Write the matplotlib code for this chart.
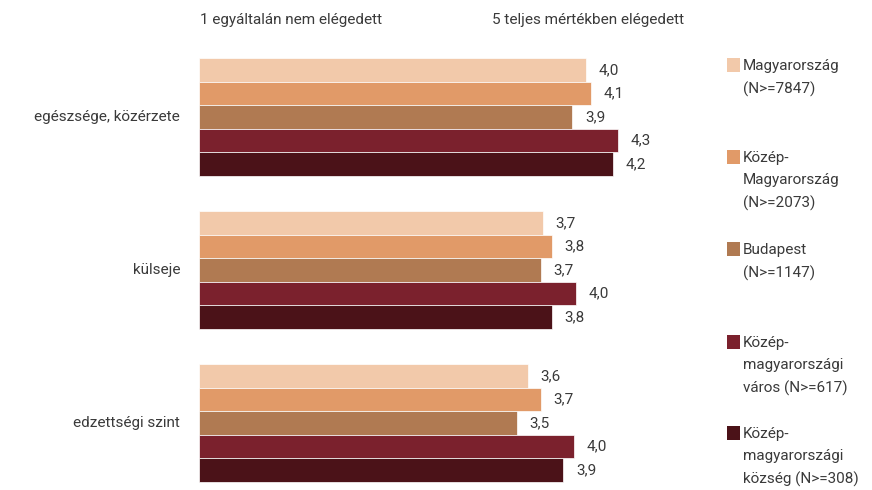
import matplotlib
matplotlib.use("Agg")
import matplotlib.pyplot as plt
from matplotlib.patches import Rectangle
import numpy as np

plt.rcParams['font.family'] = ['Roboto', 'DejaVu Sans']

categories = ["egészsége, közérzete", "külseje", "edzettségi szint"]
series = ["Magyarország\n(N>=7847)", "Közép-\nMagyarország\n(N>=2073)", "Budapest\n(N>=1147)",
          "Közép-\nmagyarországi\nváros (N>=617)", "Közép-\nmagyarországi\nközség (N>=308)"]
values = [
    [4.05, 3.71, 3.59],   # Magyarország
    [4.09, 3.78, 3.69],   # Közép-Magyarország
    [3.94, 3.69, 3.50],   # Budapest
    [4.30, 3.97, 3.95],   # KM város
    [4.26, 3.78, 3.87],   # KM község
]
labels = [
    ["4,0", "3,7", "3,6"],
    ["4,1", "3,8", "3,7"],
    ["3,9", "3,7", "3,5"],
    ["4,3", "4,0", "4,0"],
    ["4,2", "3,8", "3,9"],
]
colors = ["#F2C9AA", "#E19A68", "#B07A52", "#7B212D", "#4B1218"]
scale_labels = ["1 egyáltalán nem elégedett", "5 teljes mértékben elégedett"]

W, H = 872, 490
fig = plt.figure(figsize=(W/100, H/100), dpi=100)
# axes: x 1..5 maps to px 199..707
x0, x1 = 199, 707
ax = fig.add_axes([x0/W, 0, (x1-x0)/W, 1])
ax.set_xlim(1, 5)
c0, sp = 117, 153
ax.set_ylim((H - c0)/sp, (0 - c0)/sp)
ax.axis('off')

h = 23.6/sp
ypos = np.arange(len(categories))
txtc = "#3a3a3a"
fs = 11
for i, (vals, labs, col) in enumerate(zip(values, labels, colors)):
    y = ypos + (i - 2)*h
    ax.barh(y, np.array(vals) - 1, left=1, height=h, color=col, edgecolor='white', linewidth=0.5)
    for yy, v, lab in zip(y, vals, labs):
        ax.annotate(lab, (v, yy), xytext=(9, 0), textcoords='offset points',
                    va='center', ha='left', fontsize=fs, color=txtc)

for j, cat in enumerate(categories):
    fig.text(180/W, 1 - (c0 + j*sp)/H, cat, ha='right', va='center', fontsize=fs, color=txtc)

fig.text(200/W, 1 - 20/H, scale_labels[0], ha='left', va='center', fontsize=fs, color=txtc)
fig.text(492/W, 1 - 20/H, scale_labels[1], ha='left', va='center', fontsize=fs, color=txtc)

leg_y = [65, 157, 249, 342, 433]
for s, col, ly in zip(series, colors, leg_y):
    fig.patches.append(Rectangle((727/W, 1 - (ly + 7)/H), 13/W, 14/H, transform=fig.transFigure,
                                 facecolor=col, edgecolor='none'))
    fig.text(743/W, 1 - (ly - 6)/H, s, ha='left', va='top', fontsize=fs, color=txtc, linespacing=1.72)

fig.savefig("out.png", dpi=100)
